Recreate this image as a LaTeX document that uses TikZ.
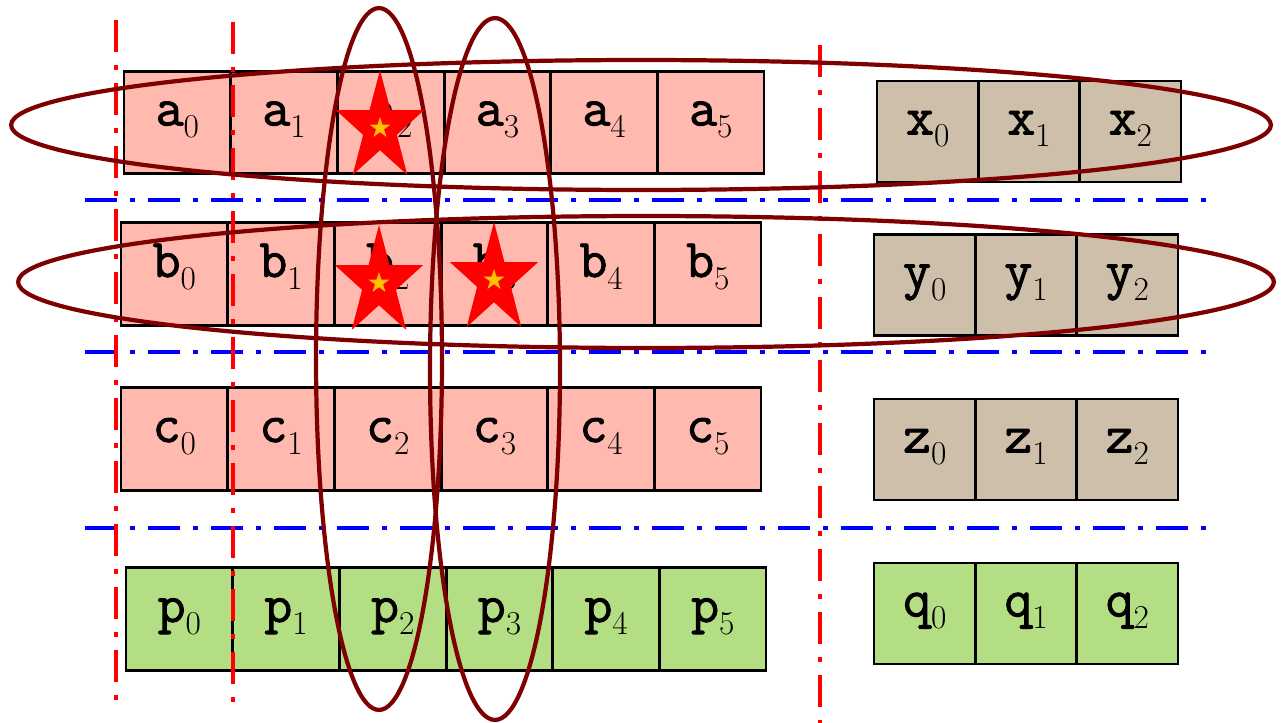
\documentclass[tikz,border=0pt]{standalone}
\usepackage{fontspec}
\setmonofont{Latin Modern Mono}[AutoFakeBold=1.6]
\usepackage{xcolor}
\usepackage{tikz}

\definecolor{cellpink}{HTML}{FFB9AE}
\definecolor{celltan}{HTML}{CDBFA9}
\definecolor{cellgreen}{HTML}{B3DE83}
\definecolor{ringred}{HTML}{7F0000}
\definecolor{staryellow}{HTML}{FFC000}

\tikzset{
  cell/.style={draw=black,line width=1.6pt,inner sep=0pt,text height=14pt,text depth=10.6pt,
    font=\fontsize{31}{32}\selectfont\ttfamily\bfseries},
  guide/.style={line width=2.2pt,dash pattern=on 0.64cm off 0.26cm on 0.1cm off 0.26cm},
  ring/.style={draw=ringred,line width=2.4pt}
}
\newcommand\lbl[2]{#1\raisebox{-7pt}{\fontsize{19}{19}\selectfont\rmfamily\mdseries #2}}
\newcommand\starmark[2]{%
  \begin{scope}[shift={(#1,#2)},xscale=0.8]
    \fill[red](270:58)\foreach\k in{0,...,4}{--({306+72*\k}:22.2)--({342+72*\k}:58)}--cycle;
  \end{scope}
  \begin{scope}[shift={(#1,#2)}]
    \fill[staryellow](270:11)\foreach\k in{0,...,4}{--({306+72*\k}:4.2)--({342+72*\k}:11)}--cycle;
  \end{scope}}

\begin{document}
\begin{tikzpicture}[x=0.02cm,y=-0.02cm]
\useasboundingbox(0,0)rectangle(1284,723);
% left blocks
\foreach\r/\xl/\yc/\col in{a/124/122.5/cellpink,b/121/274/cellpink,c/121/439/cellpink,p/126/619/cellgreen}
  \foreach\i in{0,...,5}
    \node[cell,fill=\col,minimum width=2.13cm,minimum height=2.05cm](\r\i)at({\xl+53.3+106.7*\i},\yc){\lbl{\r}{\i}};
% right blocks
\foreach\r/\xl/\yc/\col in{x/877/131.5/celltan,y/874/285/celltan,z/874/449.5/celltan,q/874/613.5/cellgreen}
  \foreach\i in{0,1,2}
    \node[cell,fill=\col,minimum width=2.03cm,minimum height=2.02cm](\r\i)at({\xl+50.7+101.3*\i},\yc){\lbl{\r}{\i}};
% guide lines
\foreach\y in{200,352,528}\draw[guide,blue](85,\y)--(1212,\y);
\foreach\x/\ya/\yb in{116/20/712,233/22/705,820/45/723}\draw[guide,red](\x,\ya)--(\x,\yb);
% rings
\draw[ring](641,125)ellipse[x radius=12.6cm,y radius=1.3cm];
\draw[ring](646,282)ellipse[x radius=12.56cm,y radius=1.32cm];
\draw[ring](379,359)ellipse[x radius=1.26cm,y radius=7.02cm];
\draw[ring](495,369)ellipse[x radius=1.3cm,y radius=7.02cm];
% stars
\starmark{380}{128}
\starmark{379}{283}
\starmark{494}{280}
\end{tikzpicture}
\end{document}
